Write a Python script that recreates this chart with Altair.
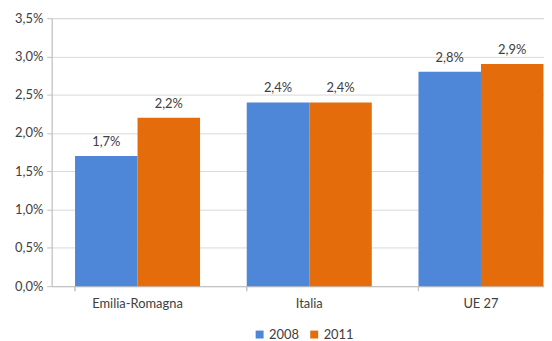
import altair as alt
import pandas as pd

categories = ["Emilia-Romagna", "Italia", "UE 27"]
years = ["2008", "2011"]
values_2008 = [1.7, 2.4, 2.8]
values_2011 = [2.2, 2.4, 2.9]
y_ticks = [0, 0.5, 1.0, 1.5, 2.0, 2.5, 3.0, 3.5]
colors = ["#4F87D8", "#E46C0A"]

rows = []
for c, a, b in zip(categories, values_2008, values_2011):
    rows.append({"cat": c, "year": years[0], "val": a})
    rows.append({"cat": c, "year": years[1], "val": b})
df = pd.DataFrame(rows)

FONT = "Lato"
FS = 13
TXT = "#404040"
xscale = alt.Scale(domain=categories, range=[0, 519], paddingInner=0.272, paddingOuter=0.136)
yscale = alt.Scale(domain=[0, 3.5], nice=False)

xaxis = alt.Axis(labelAngle=0, ticks=False, domainColor="#bfbfbf",
                 labelPadding=11, labelFontSize=FS, labelColor=TXT,
                 labelFont=FONT)
yaxis = alt.Axis(values=y_ticks, labelExpr="replace(format(datum.value, '.1f'), '.', ',') + '%'",
                 labelOverlap=False, labelBound=False, labelFlush=False,
                 gridColor="#d9d9d9", domainColor="#bfbfbf", tickColor="#bfbfbf",
                 tickSize=5, labelPadding=4, labelFontSize=FS,
                 labelColor=TXT, labelFont=FONT)

X = alt.X("cat:N", scale=xscale, sort=categories, title=None, axis=xaxis)
Y = alt.Y("val:Q", scale=yscale, title=None, axis=yaxis)
XO = alt.XOffset("year:N", scale=alt.Scale(paddingInner=0, paddingOuter=0))

base = alt.Chart(df)

bars = base.mark_bar().encode(
    x=X, xOffset=XO, y=Y,
    color=alt.Color("year:N", scale=alt.Scale(domain=years, range=colors),
                    legend=alt.Legend(title=None, orient="none", direction="horizontal",
                                      legendX=203, legendY=312, symbolType="square",
                                      symbolSize=64, labelFontSize=13, labelFont=FONT,
                                      labelColor=TXT, columnPadding=8, labelOffset=3,
                                      symbolStrokeWidth=0)),
)

labels = base.transform_calculate(
    lab="replace(format(datum.val, '.1f'), '.', ',') + '%'"
).mark_text(dy=-14, fontSize=FS, font=FONT, color=TXT, baseline="middle").encode(
    x=X, xOffset=XO, y=Y, text="lab:N",
)

ticks = base.mark_rule(color="#bfbfbf").encode(
    x=alt.X("cat:N", scale=xscale, sort=categories, title=None, axis=xaxis, bandPosition=0),
    y=alt.value(270),
    y2=alt.value(275),
)

chart = alt.layer(bars, labels, ticks).properties(
    width=496, height=270,
    autosize=alt.AutoSizeParams(type="none"),
    padding={"left": 44, "top": 9, "right": 0, "bottom": 54},
).configure_view(stroke=None).configure(background="white")

chart.save("out.html", embed_options={"renderer": "svg", "actions": False})
